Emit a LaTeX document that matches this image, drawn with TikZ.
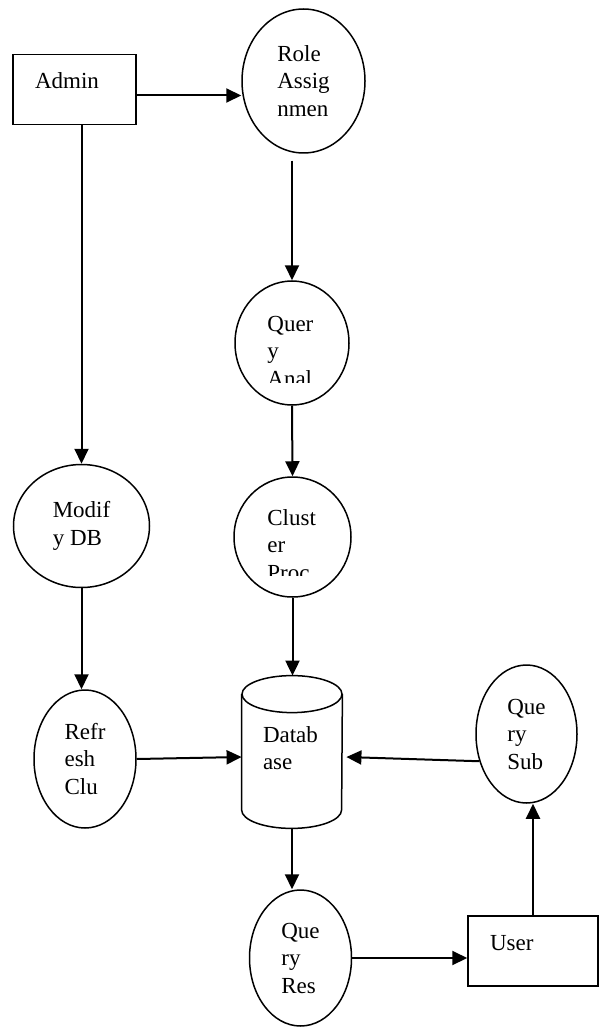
\documentclass[tikz,border=0pt]{standalone}
\usepackage{fontspec}
\setmainfont{Liberation Serif}
\usetikzlibrary{arrows.meta,shapes.geometric}

\begin{document}
\begin{tikzpicture}[x=0.5pt,y=-0.5pt,
  font=\fontsize{11.5}{13.75}\selectfont,
  proc/.style={draw,ellipse,line width=0.75pt,inner sep=0pt,align=left},
  actor/.style={draw,rectangle,line width=0.75pt,inner ysep=0pt,inner xsep=11pt,align=left,text height=17pt,text depth=18pt},
  cut/.style={anchor=base west,inner sep=0pt,text width=30pt,align=left},
  flow/.style={-{Triangle[length=7.5pt,width=7pt]},line width=1pt}]
\fill[white] (0,0) rectangle (600,1027);
\useasboundingbox (0,0) rectangle (600,1027);

\node[actor,text width=39.5pt] (admin) at (74.5,89.5) {Admin};
\node[actor,text width=43pt] (user) at (533,951) {User};

\node[proc,minimum width=61.5pt,minimum height=72pt] (role) at (303.5,81) {Role\\Assig\\nmen};
\node[proc,minimum width=57pt,minimum height=62pt] (qa) at (292,343) {};
\node[proc,minimum width=58.5pt,minimum height=60pt] (cp) at (292.5,537) {};
\node[proc,minimum width=68pt,minimum height=61.5pt] (modify) at (81.5,526) {Modif\\y DB};
\node[proc,minimum width=51pt,minimum height=69pt] (refresh) at (85,759) {Refr\\esh\\Clu};
\node[proc,minimum width=50.5pt,minimum height=69pt] (qsub) at (526.5,734) {Que\\ry\\Sub};
\node[proc,minimum width=51pt,minimum height=68pt] (qres) at (300.5,958) {Que\\ry\\Res};

\begin{scope}
\clip (230,280) rectangle (355,382);
\node[cut] (qaText) at (267,331) {Quer\\y\\Anal};
\end{scope}
\begin{scope}
\clip (230,470) rectangle (355,575);
\node[cut] (cpText) at (267,525) {Clust\\er\\Proc};
\end{scope}

\node[inner ysep=0pt,inner xsep=10.5pt,text width=29pt,align=left,text height=33pt,text depth=43pt] (db) at (292,752) {Datab\\ase};
\draw[line width=0.75pt] ([yshift=-9.25pt]db.north) ellipse [x radius=25pt,y radius=9.25pt];
\draw[line width=0.75pt] ([yshift=-9.25pt]db.north west) -- ([yshift=9.25pt]db.south west)
  arc[start angle=180,end angle=360,x radius=25pt,y radius=9.25pt] -- ([yshift=-9.25pt]db.north east);

\coordinate (a1) at ([yshift=-3pt]admin.east);
\draw[flow] (a1) -- (a1 -| role.west);
\draw[flow,shorten <=3.5pt] (role.south -| qa.north) -- (qa.north);
\draw[flow] (qa.south) -- (cp.north);
\draw[flow] (cp.south) -- (cp.south |- db.north);
\draw[flow] (admin.south -| modify.north) -- (modify.north);
\draw[flow] (modify.south) -- (modify.south |- refresh.north);
\draw[flow] (refresh.east) -- ([yshift=-2.5pt]db.west);
\draw[flow] (qsub.210) -- ([xshift=2pt,yshift=-2.5pt]db.east);
\draw[flow] (db.south) -- (db.south |- qres.north);
\draw[flow] (qres.east) -- (qres.east -| user.west);
\draw[flow] (user.north) -- (user.north |- qsub.south);
\end{tikzpicture}
\end{document}
